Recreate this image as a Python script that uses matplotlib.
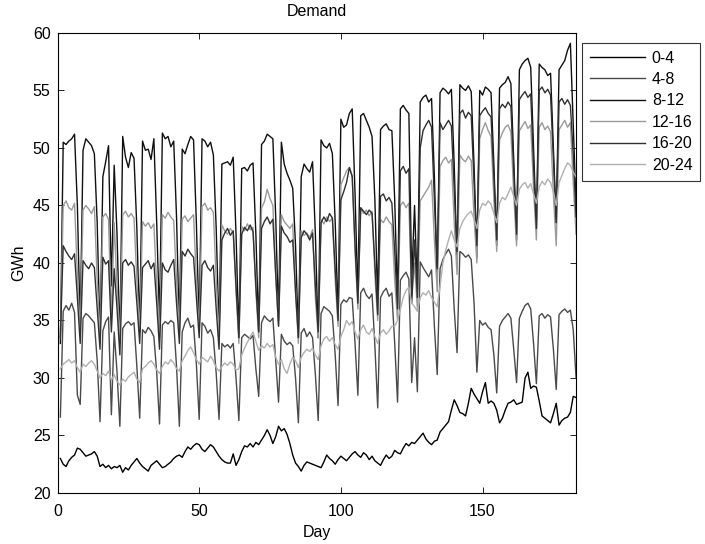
import numpy as np
import matplotlib
matplotlib.use('Agg')
from matplotlib import pyplot as plt

# daily demand per 4-hour block, day 1 is a Sunday, rows after it run Mon..Sun
day = np.arange(1, 184)

d_0_4 = [23.0,
    22.5, 22.3, 22.8, 23.1, 23.3, 23.9, 23.8,
    23.5, 23.2, 23.3, 23.4, 23.6, 23.2, 22.3,
    22.5, 22.2, 22.4, 22.1, 22.3, 22.2, 22.4,
    21.8, 22.2, 22.0, 22.4, 22.7, 23.0, 22.6,
    22.3, 22.1, 21.9, 22.4, 22.6, 22.8, 22.5,
    22.2, 22.3, 22.5, 22.7, 23.0, 23.2, 23.3,
    23.1, 23.6, 24.0, 23.8, 24.1, 24.3, 24.2,
    23.8, 23.6, 23.9, 24.2, 24.0, 23.6, 23.2,
    22.9, 22.7, 22.6, 22.6, 23.4, 22.4, 22.9,
    23.6, 24.1, 24.0, 24.3, 24.0, 24.4, 24.2,
    24.6, 25.0, 25.5, 25.0, 24.3, 24.9, 25.8,
    25.4, 25.6, 25.1, 24.3, 23.3, 22.6, 22.3,
    21.9, 22.4, 22.7, 22.6, 22.5, 22.4, 22.3,
    22.2, 22.7, 23.3, 23.0, 22.8, 22.5, 22.9,
    23.2, 23.0, 22.8, 23.1, 23.4, 23.6, 23.3,
    23.1, 23.5, 23.3, 22.9, 23.2, 22.8, 22.6,
    22.4, 22.9, 23.3, 23.0, 23.2, 23.7, 23.5,
    23.4, 23.9, 24.3, 24.1, 24.4, 24.3, 24.6,
    24.9, 25.2, 24.7, 24.4, 24.2, 24.5, 24.6,
    25.3, 25.6, 25.9, 26.2, 27.2, 28.1, 27.6,
    27.0, 26.9, 26.7, 27.8, 29.1, 28.6, 28.2,
    27.8, 28.8, 29.6, 27.8, 28.0, 27.8, 27.2,
    26.1, 26.5, 27.2, 27.8, 27.9, 28.1, 27.7,
    27.8, 27.9, 30.0, 30.5, 29.1, 29.3, 29.2,
    28.0, 26.7, 26.5, 26.3, 26.1, 26.9, 27.8,
    25.9, 26.3, 26.5, 26.6, 27.0, 28.4, 28.3]

d_4_8 = [26.6,
    35.8, 36.3, 35.9, 36.5, 35.7, 28.5, 27.7,
    35.2, 35.6, 35.4, 35.1, 34.8, 31.5, 26.2,
    34.1, 34.9, 35.3, 26.8, 34.0, 30.5, 25.8,
    34.3, 34.7, 34.9, 34.6, 34.8, 31.0, 26.5,
    34.2, 33.9, 34.4, 34.1, 33.6, 30.5, 26.0,
    34.6, 34.9, 34.7, 35.0, 34.8, 31.0, 25.8,
    34.0, 34.8, 35.2, 34.4, 34.6, 31.2, 26.4,
    34.8, 34.5, 33.9, 34.2, 33.5, 30.4, 26.4,
    33.0, 32.7, 32.9, 32.6, 33.0, 30.0, 26.3,
    33.5, 33.8, 33.6, 33.4, 33.7, 30.8, 28.4,
    34.8, 35.4, 35.1, 34.9, 35.2, 31.5, 27.9,
    33.8, 33.2, 32.9, 33.1, 32.8, 30.0, 26.1,
    33.9, 34.3, 33.6, 34.0, 33.5, 30.3, 26.3,
    35.6, 36.2, 36.0, 35.8, 35.4, 32.0, 27.6,
    36.4, 36.8, 36.6, 37.0, 36.9, 33.0, 28.5,
    37.4, 37.8, 37.2, 36.9, 37.3, 32.8, 27.4,
    37.0, 37.5, 37.8, 37.1, 37.4, 33.0, 27.9,
    38.5, 38.9, 39.2, 38.6, 29.6, 33.5, 28.8,
    40.1, 39.6, 39.2, 38.8, 39.4, 34.5, 30.3,
    39.5, 40.3, 40.8, 41.2, 40.6, 36.0, 32.2,
    41.0, 40.8, 40.5, 40.7, 40.3, 36.5, 30.5,
    35.0, 34.6, 34.8, 34.4, 34.2, 32.0, 28.7,
    34.5, 35.0, 35.3, 35.6, 35.2, 32.5, 29.6,
    35.2, 35.8, 36.3, 36.5, 36.0, 33.0, 29.5,
    35.4, 35.6, 35.2, 35.5, 35.3, 32.5, 29.0,
    35.5, 35.8, 36.0, 35.7, 35.9, 34.2, 30.0]

d_8_12 = [33.0,
    50.5, 50.3, 50.6, 50.8, 51.2, 45.0, 34.5,
    49.8, 50.8, 50.5, 50.2, 49.5, 43.5, 33.5,
    47.5, 48.8, 50.2, 38.0, 48.5, 42.5, 33.0,
    51.0, 49.2, 48.3, 49.6, 49.1, 43.0, 34.0,
    50.6, 49.8, 49.9, 49.0, 50.8, 43.5, 35.0,
    51.3, 50.8, 51.0, 50.1, 50.6, 44.0, 34.0,
    49.9, 49.5, 50.3, 51.0, 50.7, 43.5, 34.5,
    50.8, 50.6, 50.1, 50.5, 49.4, 43.0, 34.0,
    48.6, 48.7, 48.8, 48.5, 49.2, 42.5, 33.5,
    48.2, 48.3, 48.0, 48.5, 48.7, 42.5, 34.0,
    50.3, 50.6, 51.2, 51.0, 50.8, 44.0, 35.0,
    50.5, 48.6, 47.8, 47.2, 46.5, 41.5, 33.5,
    47.5, 48.6, 48.2, 47.9, 48.8, 42.5, 33.5,
    50.7, 50.2, 50.0, 50.4, 49.5, 43.5, 35.5,
    52.5, 51.8, 52.0, 53.0, 53.4, 46.0, 37.0,
    52.8, 53.0, 52.4, 51.8, 51.0, 45.5, 36.5,
    51.6, 51.9, 52.1, 51.6, 51.5, 45.5, 36.5,
    53.4, 53.7, 53.3, 53.0, 38.5, 45.0, 37.5,
    54.0, 54.4, 54.6, 54.0, 54.3, 47.5, 38.5,
    54.8, 55.2, 55.0, 54.7, 55.1, 48.5, 40.0,
    55.5, 55.2, 55.0, 55.4, 54.9, 48.5, 40.5,
    55.0, 54.6, 55.3, 55.1, 54.8, 48.5, 41.5,
    55.2, 55.5, 55.7, 56.2, 55.6, 49.0, 42.0,
    56.8, 57.3, 57.6, 57.8, 57.0, 50.0, 43.0,
    57.3, 57.0, 56.8, 56.3, 56.5, 50.0, 43.5,
    56.8, 57.2, 57.6, 58.5, 59.1, 52.0, 45.0]

d_12_16 = [33.5,
    45.0, 45.4, 44.8, 44.6, 45.2, 39.0, 34.0,
    44.6, 45.0, 44.7, 44.3, 44.9, 38.5, 33.5,
    44.0, 44.3, 43.8, 35.0, 43.5, 38.0, 33.0,
    44.2, 44.5, 44.0, 44.3, 43.9, 38.5, 34.0,
    43.6, 43.2, 43.5, 43.0, 43.4, 38.0, 33.5,
    44.2, 43.9, 44.4, 44.0, 43.7, 38.5, 34.0,
    43.8, 44.1, 43.6, 43.9, 44.2, 38.5, 34.0,
    44.9, 45.2, 44.6, 44.8, 44.4, 38.5, 33.5,
    43.3, 42.8, 42.5, 43.0, 42.6, 37.5, 33.0,
    43.2, 42.8, 43.4, 42.9, 43.1, 37.5, 33.5,
    44.8, 45.3, 46.4, 45.6, 45.0, 39.0, 34.5,
    44.2, 43.6, 43.3, 43.0, 43.4, 37.5, 33.0,
    42.8, 42.4, 42.6, 42.2, 42.9, 37.0, 33.5,
    43.8, 43.4, 44.0, 43.6, 43.9, 38.5, 34.5,
    46.8, 47.4, 48.0, 48.3, 47.6, 41.0, 36.0,
    44.8, 44.3, 44.6, 44.1, 44.5, 39.0, 35.0,
    43.8, 43.5, 44.0, 43.6, 43.3, 38.5, 35.0,
    45.0, 45.3, 44.8, 45.2, 37.0, 40.0, 36.0,
    45.4, 45.8, 46.2, 46.6, 47.2, 42.0, 37.5,
    48.4, 48.9, 49.2, 48.7, 49.0, 43.5, 39.0,
    49.4, 49.0, 48.8, 49.3, 48.9, 44.0, 40.0,
    50.8, 51.6, 52.2, 51.5, 51.0, 45.5, 41.0,
    50.7, 51.3, 51.8, 52.0, 51.4, 46.0, 41.5,
    51.5, 51.9, 52.3, 51.7, 52.0, 46.5, 42.0,
    51.8, 52.2, 51.6, 51.9, 51.4, 46.0, 41.5,
    51.6, 52.0, 52.4, 51.8, 52.2, 47.0, 42.5]

d_16_20 = [33.5,
    41.5, 41.0, 40.6, 40.3, 40.8, 37.0, 33.0,
    40.2, 39.8, 39.5, 40.0, 39.6, 36.0, 32.5,
    40.5, 39.9, 40.2, 34.0, 39.5, 36.0, 32.0,
    40.0, 40.3, 39.8, 40.1, 39.7, 36.5, 33.0,
    39.6, 39.9, 40.2, 39.5, 40.0, 36.5, 32.5,
    40.0, 39.4, 39.2, 39.8, 40.3, 36.5, 33.0,
    41.0, 40.6, 41.2, 40.8, 40.5, 37.0, 33.5,
    39.8, 40.2, 39.6, 39.3, 39.8, 36.0, 32.5,
    42.0, 42.6, 43.0, 42.4, 42.8, 38.0, 33.5,
    42.5, 43.1, 42.8, 43.3, 42.7, 38.0, 34.0,
    43.0, 43.6, 44.0, 43.4, 43.8, 39.0, 34.5,
    43.2, 42.6, 42.3, 41.8, 42.0, 37.5, 33.5,
    42.2, 42.8, 42.5, 42.0, 42.6, 38.0, 34.0,
    43.5, 44.0, 43.6, 44.3, 43.9, 39.5, 35.0,
    45.5, 46.2, 47.0, 48.3, 47.5, 41.5, 36.5,
    44.8, 44.5, 44.2, 44.6, 44.3, 40.0, 35.5,
    45.8, 46.0, 45.4, 45.7, 45.2, 41.0, 36.0,
    48.0, 48.4, 47.8, 48.2, 36.5, 42.0, 37.0,
    50.0, 51.5, 52.0, 52.4, 51.8, 45.5, 39.5,
    52.2, 51.6, 52.0, 52.4, 51.9, 46.5, 41.0,
    53.0, 53.3, 52.6, 53.1, 52.8, 47.0, 41.5,
    52.8, 53.2, 53.5, 53.0, 52.7, 47.5, 42.0,
    53.4, 53.8, 53.5, 54.0, 53.6, 48.0, 42.5,
    54.2, 54.6, 54.9, 54.4, 54.7, 48.5, 43.0,
    55.0, 55.3, 54.8, 55.1, 54.6, 49.0, 43.5,
    54.0, 54.3, 53.8, 54.2, 53.7, 49.5, 44.0]

d_20_24 = [
    30.8, 31.2, 31.4, 31.6, 31.3, 31.5, 30.9,
    30.5, 31.2, 31.0, 31.3, 31.5, 31.2, 30.6,
    30.0, 30.4, 30.2, 30.6, 29.8, 30.3, 29.7,
    29.4, 29.9, 29.7, 30.1, 30.3, 30.5, 29.9,
    29.6, 30.8, 31.0, 31.3, 31.5, 31.2, 30.7,
    30.4, 31.0, 31.4, 31.2, 31.6, 31.3, 30.8,
    30.6, 31.5, 31.9, 32.4, 32.7, 32.2, 31.6,
    31.2, 31.8, 31.6, 31.4, 31.9, 31.5, 30.9,
    30.6, 31.0, 31.3, 31.1, 31.4, 31.2, 30.7,
    30.8, 32.0, 32.6, 33.1, 33.6, 34.0, 33.2,
    32.4, 32.8, 32.6, 33.0, 32.7, 32.9, 31.8,
    31.2, 31.6, 30.8, 30.4, 31.2, 31.8, 31.5,
    30.9, 31.8, 32.2, 32.5, 32.3, 32.6, 32.0,
    31.6, 32.8, 33.4, 33.6, 33.2, 33.5, 32.9,
    32.5, 33.6, 34.2, 35.0, 34.6, 34.9, 34.0,
    33.4, 34.2, 34.6, 34.0, 33.8, 34.3, 33.6,
    33.0, 33.9, 34.2, 33.8, 34.1, 34.5, 34.5,
    35.0, 36.0, 37.0, 37.6, 37.9, 36.5, 36.2,
    35.8, 37.0, 37.4, 37.2, 37.6, 37.0, 36.6,
    36.2, 38.0, 40.0, 41.1, 42.0, 42.8, 42.0,
    41.4, 43.0, 43.6, 44.0, 44.3, 44.5, 43.8,
    43.0, 44.6, 45.2, 45.0, 45.4, 45.1, 44.3,
    43.5, 45.2, 45.7, 45.5, 46.0, 46.6, 45.8,
    45.0, 46.4, 46.8, 47.0, 46.5, 46.9, 46.0,
    45.2, 46.6, 47.1, 46.8, 47.3, 47.0, 46.2,
    45.0, 47.0, 47.6, 48.2, 48.7, 48.5, 47.9,
    47.5]

labels = ['0-4', '4-8', '8-12', '12-16', '16-20', '20-24']
series = [d_0_4, d_4_8, d_8_12, d_12_16, d_16_20, d_20_24]
colors = ['#000000', '#4a4a4a', '#101010', '#9a9a9a', '#303030', '#b0b0b0']

plt.rcParams['font.family'] = ['Liberation Sans', 'DejaVu Sans']
fs = 11.5

fig = plt.figure(figsize=(7.05, 5.44), dpi=100)
ax = fig.add_axes([0.0816, 0.0938, 0.7355, 0.8456])

for vals, lab, c in zip(series, labels, colors):
    ax.plot(day, vals, color=c, lw=1.0, label=lab)

ax.set_xlim(0, 183)
ax.set_ylim(20, 60)
ax.set_xticks([0, 50, 100, 150])
ax.set_yticks(range(20, 61, 5))
ax.tick_params(direction='in', top=True, right=True, labelsize=fs, length=4, width=0.6)
ax.tick_params(axis='x', pad=8)
ax.tick_params(axis='y', pad=5)
for s in ax.spines.values():
    s.set_linewidth(0.8)
ax.set_title('Demand', fontsize=fs, pad=12)
ax.set_xlabel('Day', fontsize=fs, labelpad=4)
ax.set_ylabel('GWh', fontsize=fs, labelpad=5)

leg = ax.legend(loc='upper left', bbox_to_anchor=(1.012, 0.979), borderaxespad=0,
                fancybox=False, edgecolor='black', fontsize=fs, handlelength=3.4,
                handletextpad=0.45, labelspacing=0.4, borderpad=0.5)
leg.get_frame().set_linewidth(0.8)

fig.savefig('out.png', dpi=100)
